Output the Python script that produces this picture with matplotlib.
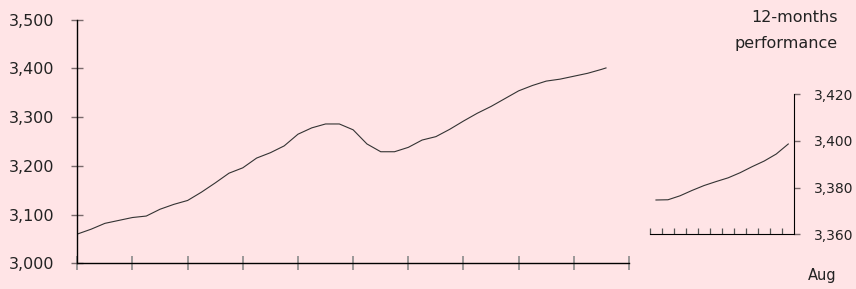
import matplotlib
matplotlib.use("Agg")
import matplotlib.pyplot as plt
from matplotlib.ticker import FuncFormatter

# long-run series, one value every 3 months (month index 0..115)
months = [0, 3, 6, 9, 12, 15, 18, 21, 24, 27, 30, 33, 36, 39, 42, 45, 48, 51,
          54, 57, 60, 63, 66, 69, 72, 75, 78, 81, 84, 87, 90, 93, 96, 99, 102,
          105, 108, 111, 114, 115]
values = [3060, 3070, 3082, 3088, 3094, 3097, 3111, 3121, 3129, 3146, 3165,
          3185, 3196, 3216, 3227, 3241, 3265, 3278, 3286, 3286, 3274, 3245,
          3229, 3229, 3238, 3253, 3260, 3275, 3292, 3308, 3322, 3338, 3354,
          3365, 3374, 3378, 3384, 3390, 3398, 3401]

# last 12 months
recent_pos = [0.5, 1.5, 2.5, 3.5, 4.5, 5.5, 6.5, 7.5, 8.5, 9.5, 10.5, 11.5]
recent_vals = [3374.7, 3374.8, 3376.5, 3378.8, 3380.9, 3382.6, 3384.2,
               3386.4, 3389.0, 3391.4, 3394.4, 3398.7]

main_yticks = [3000, 3100, 3200, 3300, 3400, 3500]
small_yticks = [3360, 3380, 3400, 3420]

BG = "#FFE4E6"
LINE = "#333333"
TICK = "#7a6a6c"
TEXT = "#222222"

fmt = FuncFormatter(lambda v, _: f"{v:,.0f}")

fig = plt.figure(figsize=(8.56, 2.89), dpi=100, facecolor=BG)

ax = fig.add_axes([0.0903, 0.0889, 0.6445, 0.8429], facecolor=BG)
ax.plot(months, values, color=LINE, lw=0.8)
ax.set_xlim(0, 120)
ax.set_ylim(3000, 3500)
ax.set_xticks(range(0, 121, 12))
ax.set_xticklabels([])
ax.set_yticks(main_yticks)
ax.yaxis.set_major_formatter(fmt)
for s in ("top", "right"):
    ax.spines[s].set_visible(False)
for s in ("left", "bottom"):
    ax.spines[s].set_linewidth(1.0)
ax.tick_params(axis="x", direction="inout", length=9.4, width=1.2, color="#8a8a8a")
ax.tick_params(axis="y", direction="inout", length=8.6, width=1.0, color=TICK,
               labelsize=11.5, pad=12.2, labelcolor=TEXT)

ax2 = fig.add_axes([0.7593, 0.1893, 0.1686, 0.4844], facecolor=BG)
ax2.plot(recent_pos, recent_vals, color=LINE, lw=0.8)
ax2.set_xlim(0, 12)
ax2.set_ylim(3360, 3420)
ax2.set_xticks(range(12))
ax2.set_xticklabels([])
ax2.set_yticks(small_yticks)
ax2.yaxis.set_major_formatter(fmt)
ax2.yaxis.tick_right()
for s in ("top", "left"):
    ax2.spines[s].set_visible(False)
ax2.tick_params(axis="x", direction="in", length=4.3, width=0.9, color="#555555")
ax2.tick_params(axis="y", direction="out", length=4.3, width=1.0, color=TICK,
                labelsize=10, pad=10, labelcolor=TEXT)

fig.text(0.979, 0.941, "12-months", ha="right", va="center", fontsize=11.5,
         color=TEXT)
fig.text(0.979, 0.851, "performance", ha="right", va="center", fontsize=11.5,
         color=TEXT)
fig.text(0.961, 0.048, "Aug", ha="center", va="center", fontsize=10.5,
         color=TEXT)

fig.savefig("out.png", dpi=100, facecolor=BG)
